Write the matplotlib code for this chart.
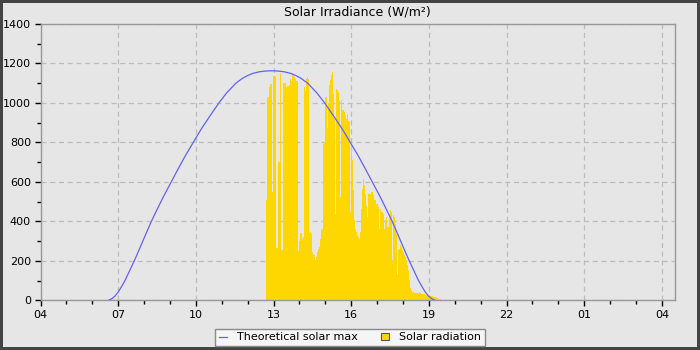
import numpy as np
from matplotlib import pyplot as plt

# theoretical clear-sky maximum (hour of day, W/m2)
curve_hours = [6.62, 6.75, 6.88, 7.00, 7.13, 7.26, 7.44, 7.62, 7.80, 7.95,
               8.10, 8.28, 8.50, 8.75, 9.05, 9.30, 9.60, 9.90, 10.20, 10.55,
               10.89, 11.20, 11.55, 11.80, 12.00, 12.20, 12.45, 12.70, 12.93,
               13.16, 13.41, 13.66, 13.86, 14.06, 14.31, 14.66, 14.97, 15.31, 15.66,
               15.96, 16.26, 16.56, 16.81, 17.11, 17.36, 17.58, 17.76, 17.91, 18.06,
               18.24, 18.42, 18.60, 18.73, 18.86, 18.98, 19.11, 19.24]
curve_values = [0, 8, 22, 42, 70, 100, 150, 200, 254, 300,
                346, 400, 460, 526, 600, 662, 734, 800, 866, 935,
                1000, 1052, 1100, 1124, 1138, 1149, 1157, 1161, 1162,
                1161, 1157, 1149, 1138, 1124, 1100, 1052, 1000, 935, 866,
                800, 734, 662, 600, 526, 460, 400, 346, 300, 254,
                200, 150, 100, 70, 42, 22, 8, 0]

# measured solar radiation, one sample every ~2.3 minutes starting 12:42
rad_start_hour = 12.70
rad_step_min = 2.317
rad_values = [
  510, 1025, 1030, 1080, 1095, 1095, 550, 1135, 1135, 1135,
  265, 265, 700, 700, 1150, 255, 255, 1100, 1100, 1100,
  1080, 1085, 1085, 1090, 1120, 1110, 1150, 1140, 1130, 1120,
  1110, 1110, 250, 300, 340, 340, 310, 320, 1080, 1060,
  1120, 1130, 1120, 340,
  346, 338, 245, 236, 228, 203, 220, 245, 262, 270,
  312, 355, 363, 793, 802, 1030, 1030, 870, 1000, 1090,
  1114, 1140, 1156, 1046, 920, 439, 1072, 1063, 1055, 1010,
  523, 1013, 962, 962, 955, 937, 920, 945, 910, 903,
  447, 785, 709, 557, 405, 363, 346, 329,
  320, 312, 346, 464, 565, 616, 582, 540, 480, 422,
  540, 540, 540, 549, 549, 532, 510, 510, 490, 490,
  473, 363, 464, 447, 447, 439, 363, 405, 422, 371,
  371, 439, 456, 447, 203, 430, 422, 388, 338, 127,
  253, 262,
  280, 272, 255, 246, 230, 221, 204, 178, 153, 102,
  60, 51, 42, 42, 37, 37, 37, 37, 37, 42,
  37, 30, 30, 30, 30, 25, 25, 25, 20, 20,
  20, 20, 20, 17, 17, 17, 14, 14, 8, 8,
  8, 3]

x_tick_hours = [4, 7, 10, 13, 16, 19, 22, 25, 28]
x_tick_labels = ['04', '07', '10', '13', '16', '19', '22', '01', '04']

BG = '#e6e6e6'
GOLD = '#ffd700'
BLUE = '#6262f5'

plt.rcParams['font.family'] = 'DejaVu Sans'
plt.rcParams['font.size'] = 8

fig = plt.figure(figsize=(7, 3.5), dpi=100)
fig.patch.set_facecolor(BG)
fig.patch.set_edgecolor('#444444')
fig.patch.set_linewidth(3)
ax = fig.add_axes([0.058, 0.142, 0.906, 0.790])
ax.set_facecolor(BG)

step_h = rad_step_min / 60.0
edges = rad_start_hour + step_h * np.arange(len(rad_values) + 1)
bars = ax.stairs(rad_values, edges, fill=True, color=GOLD, linewidth=0,
                 label='Solar radiation', zorder=2)
line, = ax.plot(curve_hours, curve_values, color=BLUE, linewidth=0.9,
                label='Theoretical solar max', zorder=3)

ax.set_xlim(4, 28.5)
ax.set_ylim(0, 1400)
ax.set_xticks(x_tick_hours)
ax.set_xticklabels(x_tick_labels)
ax.set_xticks(np.arange(4, 29), minor=True)
ax.set_yticks(np.arange(0, 1401, 200))
ax.set_yticks(np.arange(0, 1401, 100), minor=True)
ax.tick_params(which='major', length=4, width=1, color='black', labelsize=8, pad=3)
ax.tick_params(which='minor', length=3, width=1, color='black')
ax.grid(True, which='major', color='#bcbcbc', linestyle=(0, (4, 3)), linewidth=0.9)
ax.set_axisbelow(True)
for s in ax.spines.values():
  s.set_color('#999999')
  s.set_linewidth(1)

ax.set_title('Solar Irradiance (W/m²)', fontsize=9, pad=6)

leg = fig.legend([line, bars], ['Theoretical solar max', 'Solar radiation'],
                 loc='center', bbox_to_anchor=(0.5, 0.036), ncol=2,
                 fontsize=8, frameon=True, fancybox=False, framealpha=1,
                 facecolor='#f5f5f5', edgecolor='#8a8a8a', handlelength=0.8,
                 handleheight=0.7, handletextpad=0.9, columnspacing=2.0,
                 borderpad=0.35)
leg.get_frame().set_linewidth(1)
leg.legend_handles[1].set_edgecolor('#555555')
leg.legend_handles[1].set_linewidth(0.8)

fig.savefig('out.png', dpi=100, facecolor=fig.get_facecolor(),
            edgecolor=fig.get_edgecolor())
